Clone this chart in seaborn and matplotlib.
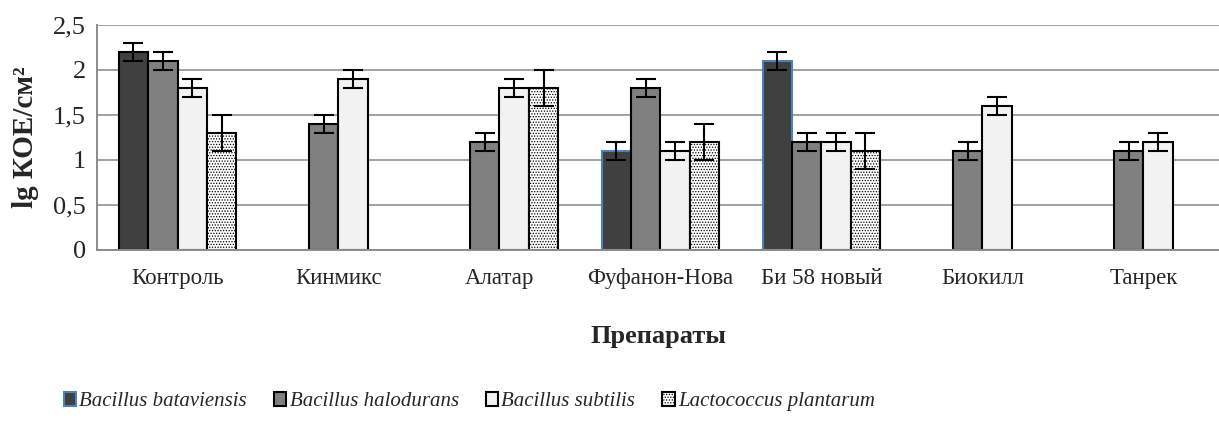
import numpy as np
import pandas as pd
import matplotlib
matplotlib.use("Agg")
import matplotlib.pyplot as plt
import seaborn as sns
from matplotlib.patches import Patch
from matplotlib.font_manager import FontProperties

categories = ["Контроль", "Кинмикс", "Алатар", "Фуфанон-Нова", "Би 58 новый", "Биокилл", "Танрек"]
series = ["Bacillus bataviensis", "Bacillus halodurans", "Bacillus subtilis", "Lactococcus plantarum"]
bataviensis = [2.2, np.nan, np.nan, 1.1, 2.1, np.nan, np.nan]
halodurans = [2.1, 1.4, 1.2, 1.8, 1.2, 1.1, 1.1]
subtilis = [1.8, 1.9, 1.8, 1.1, 1.2, 1.6, 1.2]
plantarum = [1.3, np.nan, 1.8, 1.2, 1.1, np.nan, np.nan]
err_bataviensis = [0.1, np.nan, np.nan, 0.1, 0.1, np.nan, np.nan]
err_halodurans = [0.1, 0.1, 0.1, 0.1, 0.1, 0.1, 0.1]
err_subtilis = [0.1, 0.1, 0.1, 0.1, 0.1, 0.1, 0.1]
err_plantarum = [0.2, np.nan, 0.2, 0.2, 0.2, np.nan, np.nan]
y_ticks = [0, 0.5, 1, 1.5, 2, 2.5]
y_ticklabels = ["0", "0,5", "1", "1,5", "2", "2,5"]

values = [bataviensis, halodurans, subtilis, plantarum]
errors = [err_bataviensis, err_halodurans, err_subtilis, err_plantarum]
rows = []
for s, vals, errs in zip(series, values, errors):
    for c, v, e in zip(categories, vals, errs):
        rows.append({"cat": c, "series": s, "val": v, "err": e})
df = pd.DataFrame(rows)

sns.set_theme(style="white")
plt.rcParams["font.family"] = ["Liberation Serif", "DejaVu Serif"]
plt.rcParams["hatch.color"] = "#7f7f7f"
plt.rcParams["hatch.linewidth"] = 0.6

face = ["#404040", "#808080", "#f2f2f2", "#ffffff"]
palette = dict(zip(series, face))

fig = plt.figure(figsize=(12.19, 4.23), dpi=100)
ax = fig.add_axes([0.0796, 0.409, 0.9204, 0.532])

sns.barplot(data=df, x="cat", y="val", hue="series", order=categories, hue_order=series,
            palette=palette, errorbar=None, width=0.73, gap=0, dodge=True,
            edgecolor="black", linewidth=1.5, ax=ax, legend=False)

# error bars at bar tops, using the bars drawn by seaborn
for si, s in enumerate(series):
    cont = ax.containers[si]
    for bar in cont:
        h = bar.get_height()
        if not np.isfinite(h) or h <= 0:
            continue
        xc = bar.get_x() + bar.get_width() / 2
        ci = int(round(xc))
        e = errors[si][ci]
        if si == 3:
            bar.set_hatch("......")
        if si == 0 and ci > 0:
            bar.set_edgecolor("#4f81bd")
        ax.errorbar(xc, h, yerr=e, fmt="none", ecolor="black",
                    elinewidth=1.5, capsize=7, capthick=1.5, zorder=5)

ax.set_ylim(0, 2.5)
ax.set_yticks(y_ticks)
ax.set_yticklabels(y_ticklabels, fontsize=19)
ax.set_xlim(-0.5, 6.47)
ax.yaxis.grid(True, color="#a0a0a0", linewidth=1.4)
ax.set_axisbelow(True)
for side in ["top", "right"]:
    ax.spines[side].set_visible(False)
for side in ["left", "bottom"]:
    ax.spines[side].set_color("#8c8c8c")
    ax.spines[side].set_linewidth(1.4)
ax.tick_params(axis="x", length=0, pad=13, labelsize=16.5)
ax.tick_params(axis="y", length=0, pad=8)
ax.set_xticks(np.arange(0.5, len(categories) - 0.5), minor=True)
ax.tick_params(axis="x", which="minor", direction="in", length=7, color="#8c8c8c", width=1.2)
ax.set_xlabel("Препараты", fontsize=19, fontweight="bold", labelpad=26)
ax.set_ylabel("lg КОЕ/см²", fontsize=21, fontweight="bold", labelpad=10)

handles = [
    Patch(facecolor=face[0], edgecolor="#4f81bd", linewidth=1.5),
    Patch(facecolor=face[1], edgecolor="black", linewidth=1.5),
    Patch(facecolor=face[2], edgecolor="black", linewidth=1.5),
    Patch(facecolor=face[3], edgecolor="black", linewidth=1.5, hatch="......"),
]
legend_font = FontProperties(family="Liberation Serif", style="italic", size=15)
fig.legend(handles, series, loc="center", bbox_to_anchor=(0.385, 0.05), ncol=4, frameon=False,
           prop=legend_font, handlelength=0.6, handleheight=0.6, handletextpad=0.15,
           columnspacing=1.3)

fig.savefig("out.png", dpi=100)
